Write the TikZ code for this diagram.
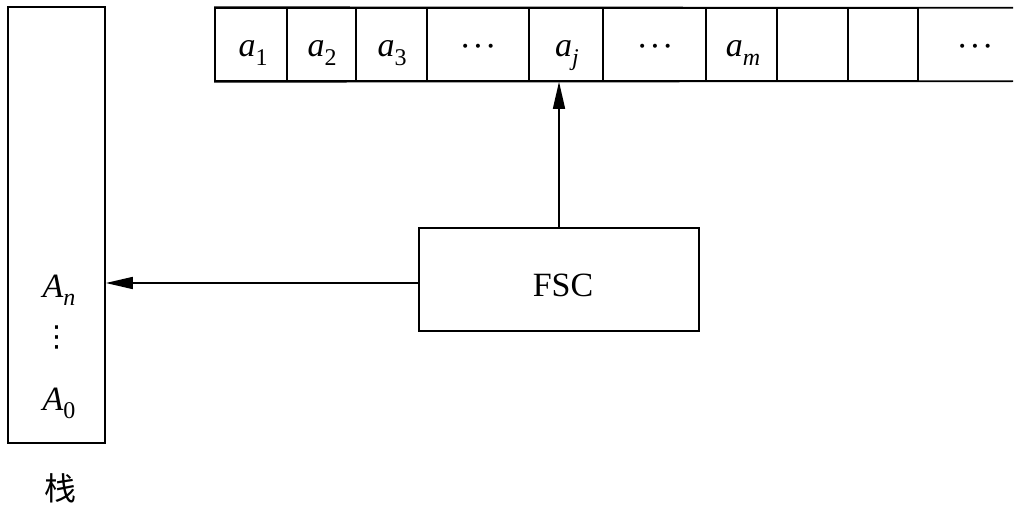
\documentclass[tikz,border=0pt]{standalone}
\usepackage{fontspec}
\setmainfont{Liberation Serif}
\newfontfamily\cjk{Noto Sans CJK SC}
\newfontfamily\symfont{DejaVu Sans}
\usetikzlibrary{arrows.meta}
\newcommand{\symsub}[2]{\textit{#1}\raisebox{-0.26em}{\fontsize{24}{26}\selectfont #2}}
\newcommand{\hdotsx}{·\kern1.5pt·\kern1.5pt·}
\begin{document}
\begin{tikzpicture}[x=1pt,y=-1pt,
  lw/.style={line width=1.6pt},
  cell/.style={lw,draw,minimum height=73pt,inner sep=0pt},
  box/.style={lw,draw,inner sep=0pt},
  lbl/.style={font=\fontsize{34}{38}\selectfont,inner sep=0pt},
  arr/.style={lw,-{Triangle[length=27pt,width=12pt]}}]
\useasboundingbox (0,0) rectangle (1024,508);
% tape
\node[cell,minimum width=72pt]  (c1) at (251,44.5) {};
\node[cell,minimum width=69pt]  (c2) at (321.5,44.5) {};
\node[cell,minimum width=71pt]  (c3) at (391.5,44.5) {};
\node[cell,minimum width=102pt] (c4) at (478,44.5) {};
\node[cell,minimum width=74pt]  (aj) at (566,44.5) {};
\node[cell,minimum width=103pt] (c6) at (654.5,44.5) {};
\node[cell,minimum width=71pt]  (c7) at (741.5,44.5) {};
\node[cell,minimum width=71pt]  (c8) at (812.5,44.5) {};
\node[cell,minimum width=70pt]  (c9) at (883,44.5) {};
\node[minimum width=95pt,minimum height=73pt,inner sep=0pt] (c10) at (965.5,44.5) {};
\draw[lw] (c1.north west) -- (c10.north east);
\draw[lw] (c1.south west) -- (c10.south east);
\node[lbl,anchor=base] (t1) at (253,57) {\symsub{a}{1}};
\node[lbl,anchor=base] (t2) at (322,57) {\symsub{a}{2}};
\node[lbl,anchor=base] (t3) at (392,57) {\symsub{a}{3}};
\node[lbl] (t4) at (478,51) {\hdotsx};
\node[lbl,anchor=base] (tj) at (567,57) {\symsub{a}{\textit{j}}};
\node[lbl] (t6) at (655,51) {\hdotsx};
\node[lbl,anchor=base] (tm) at (743,57) {\symsub{a}{\textit{m}}};
\node[lbl] (t10) at (975,51) {\hdotsx};
% stack
\node[box,minimum width=97pt,minimum height=436pt] (stack) at (56.5,225) {};
\node[lbl,anchor=base] (an) at (59,297) {\symsub{A}{\textit{n}}};
\node[inner sep=0pt,font=\symfont\fontsize{29}{32}\selectfont] (vd) at (56.5,337) {⋮};
\node[lbl,anchor=base] (a0) at (59,410) {\symsub{A}{0}};
\node[inner sep=0pt,font=\cjk\fontsize{32}{36}\selectfont] (zhan) at (60,488) {栈};
% controller
\node[box,minimum width=280pt,minimum height=103pt] (fsc) at (559,279.5) {};
\node[lbl,anchor=base] (fsct) at (563,296) {FSC};
% connectors
\draw[arr] (fsc.north) -- (fsc.north |- aj.south);
\draw[arr] ([yshift=-3.5pt]fsc.west) -- ([yshift=-3.5pt]fsc.west -| stack.east);
\end{tikzpicture}
\end{document}
